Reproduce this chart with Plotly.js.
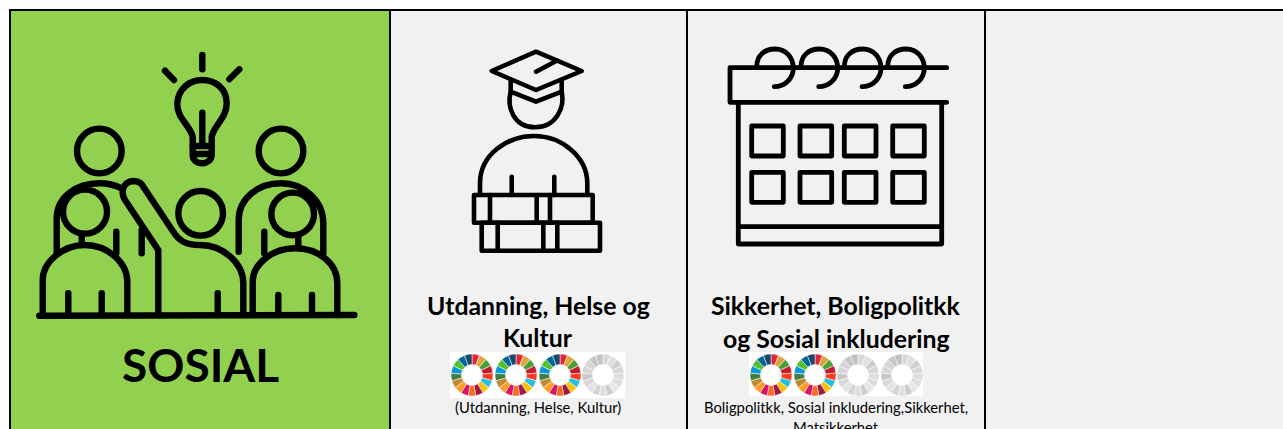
<!DOCTYPE html>
<html>
<head>
<meta charset="utf-8">
<script src="https://cdn.plot.ly/plotly-3.0.1.min.js"></script>
<style>
html,body{margin:0;padding:0;background:#fff;overflow:hidden}
#chart{width:1283px;height:429px}
.layer-above .shapelayer path{stroke-linecap:round;stroke-linejoin:round}
.layer-above .shapelayer{filter:blur(0.55px)}
.pielayer{filter:blur(0.7px)}
</style>
</head>
<body>
<div id="chart"></div>
<script>
const mainLabel = "SOSIAL";
const card1Title = ["Utdanning, Helse og", "Kultur"];
const card1Note = ["(Utdanning, Helse, Kultur)"];
const card2Title = ["Sikkerhet, Boligpolitkk", "og Sosial inkludering"];
const card2Note = ["Boligpolitkk, Sosial inkludering,Sikkerhet,", "Matsikkerhet"];
const sdgColors = ["#E5243B","#DDA63A","#4C9F38","#C5192D","#FF3A21","#26BDE2","#FCC30B","#A21942","#FD6925","#DD1367","#FD9D24","#BF8B2E","#3F7E44","#0A97D9","#56C02B","#00689D","#19486A"];
const greyColors = ["#d8d8d8","#e0e0e0","#cfcfcf","#d6d6d6","#dcdcdc","#dddddd","#e8e8e8","#cdcdcd","#dedede","#d4d4d4","#e2e2e2","#d8d8d8","#c8c8c8","#d6d6d6","#d6d6d6","#c6c6c6","#c2c2c2"];
const goalShares = [1,1,1,1,1,1,1,1,1,1,1,1,1,1,1,1,1];
const card1Wheels = [true,true,true,false];
const card2Wheels = [true,true,false,false];

const W = 1283, H = 429;
const shapes = [];
const BLACK = "#000";

function rect(x0,y0,x1,y1,fill,layer){
  shapes.push({type:"rect",xref:"x",yref:"y",x0,y0,x1,y1,fillcolor:fill,line:{width:0},layer:layer||"below"});
}
function strokePath(d,w){
  shapes.push({type:"path",xref:"x",yref:"y",path:d,line:{color:BLACK,width:w},fillcolor:"rgba(0,0,0,0)",layer:"above"});
}
function ring(cx,cy,r,w){
  shapes.push({type:"circle",xref:"x",yref:"y",x0:cx-r,x1:cx+r,y0:cy-r,y1:cy+r,line:{color:BLACK,width:w},fillcolor:"rgba(0,0,0,0)",layer:"above"});
}
// icon helper: coordinates are written in local units of 1/3 pixel from an origin
function icon(ox,oy,w){
  const t = s => s.replace(/(-?\d+(?:\.\d+)?) (-?\d+(?:\.\d+)?)/g,(m,a,b)=>(ox+a/3).toFixed(1)+" "+(oy+b/3).toFixed(1));
  return {
    p:(d,sw)=>strokePath(t(d),sw||w),
    c:(x,y,r,sw)=>ring(ox+x/3,oy+y/3,r/3,sw||w)
  };
}

// backgrounds
rect(10,10,390,H,"#92D050");
rect(390,10,W,H,"#F1F1F1");
// table lines
rect(9,9,W,11,BLACK);
rect(9,9,11,H,BLACK);
rect(389,9,391,H,BLACK);
rect(686,9,688,H,BLACK);
rect(984,9,986,H,BLACK);

// white panels behind the goal wheels
rect(450,352,625,398,"#FFFFFF");
rect(749,352,923,396,"#FFFFFF");

// people + light bulb
const a = icon(10,40,6.4);
a.p("M 465 92 L 492 120"); a.p("M 577 45 L 577 88"); a.p("M 688 88 L 658 118");
a.p("M 548 290 C 540 255 500 235 502 190 C 505 145 540 120 577 120 C 615 120 650 145 650 190 C 650 235 612 255 605 290 L 605 345 C 605 360 590 370 577 370 C 560 370 548 360 548 345 Z");
a.p("M 577 218 L 577 315"); a.p("M 548 318 L 605 318"); a.p("M 555 342 L 600 342");
a.c(268,333,67); a.c(813,333,67); a.c(572,520,67); a.c(225,515,66); a.c(848,522,64);
a.p("M 140 640 L 140 535 C 140 470 200 430 268 430 C 290 430 315 435 335 445");
a.p("M 686 635 L 686 540 C 686 475 745 430 813 430 C 880 430 940 480 940 550 L 940 640");
a.p("M 319 575 L 319 640"); a.p("M 395 570 L 395 640"); a.p("M 763 575 L 763 640");
a.p("M 445 825 L 445 630 L 345 480 C 330 455 340 425 370 423 C 385 423 395 430 400 440 L 490 575 C 505 600 525 615 570 615 C 640 615 700 670 700 730 L 700 825");
a.p("M 98 825 L 98 720 C 98 665 160 615 225 615 C 290 615 352 665 352 725 L 352 825");
a.p("M 215 585 L 215 612"); a.p("M 175 760 L 175 825"); a.p("M 275 760 L 275 825");
a.p("M 728 825 L 728 725 C 728 670 790 625 855 625 C 925 625 982 670 982 730 L 982 825");
a.p("M 865 585 L 865 620"); a.p("M 805 765 L 805 825"); a.p("M 906 765 L 906 825"); a.p("M 623 760 L 623 825");
a.p("M 88 827 L 1033 825");

// graduate
const b = icon(450,40,4.6);
b.p("M 258 35 L 395 93 L 258 150 L 125 93 Z");
b.p("M 258 95 L 320 62");
b.p("M 182 120 L 182 155 L 258 185 L 335 155 L 335 120");
b.p("M 182 155 C 170 200 190 262 255 262 C 320 262 345 200 335 155");
b.p("M 90 465 L 90 430 C 90 345 170 288 252 288 C 335 288 412 350 412 430 L 412 465");
b.p("M 185 410 L 185 465"); b.p("M 313 410 L 313 465");
b.p("M 72 465 L 428 465 L 428 548 L 72 548 Z");
b.p("M 120 465 L 120 548"); b.p("M 260 465 L 260 548"); b.p("M 300 465 L 300 548");
b.p("M 95 548 L 450 548 L 450 632 L 95 632 Z");
b.p("M 143 548 L 143 632"); b.p("M 280 548 L 280 632"); b.p("M 322 548 L 322 632");

// calendar
const c = icon(715,40,4.8);
c.p("M 695 83 L 45 83 L 45 187 L 695 187");
c.p("M 70 187 L 70 612 L 680 612 L 680 187");
c.p("M 70 560 L 680 560");
[[110,205],[255,350],[388,483],[533,628]].forEach(col=>{
  [[258,348],[397,487]].forEach(row=>{
    c.p(`M ${col[0]} ${row[0]} L ${col[1]} ${row[0]} L ${col[1]} ${row[1]} L ${col[0]} ${row[1]} Z`);
  });
});
[0,133,263,393].forEach(s=>{
  c.p(`M ${125+s} 80 C ${125+s} 45 ${150+s} 27 ${180+s} 27 C ${215+s} 27 ${235+s} 55 ${235+s} 85 C ${235+s} 115 ${210+s} 140 ${178+s} 140`);
});

// goal wheels
const traces = [];
function wheel(cx,cy,r,coloured){
  traces.push({
    type:"pie",values:goalShares,sort:false,direction:"clockwise",rotation:0,hole:0.5,
    marker:{colors:coloured?sdgColors:greyColors,line:{color:"#FFFFFF",width:0.5}},
    textinfo:"none",hoverinfo:"skip",showlegend:false,
    domain:{x:[(cx-r)/W,(cx+r)/W],y:[1-(cy+r)/H,1-(cy-r)/H]}
  });
}
[472,516,560,603].forEach((cx,i)=>wheel(cx,375,21,card1Wheels[i]));
[771,815,858,902].forEach((cx,i)=>wheel(cx,375,21,card2Wheels[i]));

// texts
const FONT = "Lato, 'Open Sans', sans-serif";
function label(text,x,y,size,bold){
  return {text:bold?`<b>${text}</b>`:text,x,y,xref:"x",yref:"y",xanchor:"center",yanchor:"middle",showarrow:false,
    font:{family:FONT,size,color:"#000"}};
}
const annotations = [
  label(mainLabel,200,364,46,true),
  label(card1Title[0],538,305,24.8,true),
  label(card1Title[1],538,337,24.8,true),
  label(card1Note[0],538,407,14.8,false),
  label(card2Title[0],836,305,24.8,true),
  label(card2Title[1],836,338,24.8,true),
  label(card2Note[0],836,407,14.8,false),
  label(card2Note[1],836,427,14.8,false)
];

const axis = {visible:false,fixedrange:true,showgrid:false,zeroline:false};
Plotly.newPlot("chart",traces,{
  width:W,height:H,margin:{l:0,r:0,t:0,b:0,pad:0},
  paper_bgcolor:"#FFFFFF",plot_bgcolor:"#FFFFFF",showlegend:false,
  xaxis:Object.assign({range:[0,W],domain:[0,1]},axis),
  yaxis:Object.assign({range:[H,0],domain:[0,1]},axis),
  shapes,annotations
},{displayModeBar:false,staticPlot:true});
</script>
</body>
</html>
